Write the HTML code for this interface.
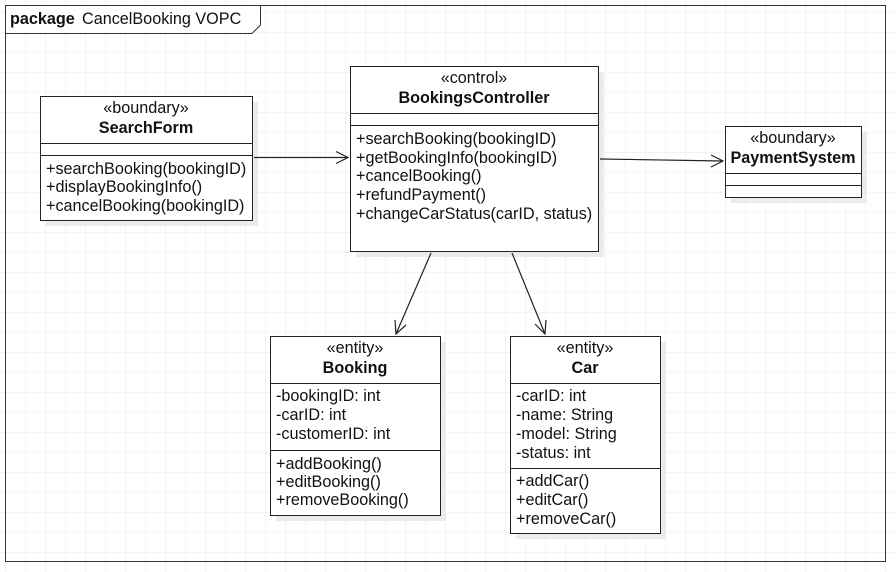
<!DOCTYPE html>
<html><head><meta charset="utf-8"><style>
body{margin:0;background:#fff}
svg{display:block}
text{font-family:"Liberation Sans",sans-serif;font-size:16.2px;fill:#111}
.b{font-weight:bold}
</style></head><body>
<svg width="896" height="572" viewBox="0 0 896 572" xmlns="http://www.w3.org/2000/svg">
<defs>
<pattern id="g" x="5" y="12" width="20" height="20" patternUnits="userSpaceOnUse">
<path d="M0 0H20M0 0V20" stroke="#e8e8e8" stroke-width="1" fill="none"/>
</pattern>
</defs>
<rect x="0" y="0" width="896" height="572" fill="url(#g)"/>
<rect x="5.5" y="5.5" width="880" height="556" fill="none" stroke="#333" stroke-width="1"/>
<path d="M5.5 5.5H260.5V25L252 33.5H5.5Z" fill="#fff" stroke="#333"/>
<text x="10" y="24" font-weight="bold">package</text><text x="82" y="24">CancelBooking VOPC</text>

<g fill="#ebebeb">
<rect x="46" y="102" width="212" height="124"/>
<rect x="356" y="72" width="248" height="185"/>
<rect x="731" y="132" width="136" height="71"/>
<rect x="276" y="342" width="170" height="179"/>
<rect x="516" y="342" width="150" height="197"/>
</g>
<g fill="#fff" stroke="#222" stroke-width="1">
<rect x="40.5" y="96.5" width="212" height="124"/>
<rect x="350.5" y="66.5" width="248" height="185"/>
<rect x="725.5" y="126.5" width="136" height="71"/>
<rect x="270.5" y="336.5" width="170" height="179"/>
<rect x="510.5" y="336.5" width="150" height="197"/>
<path d="M40 143.5H253M40 155.5H253M350 113.5H599M350 125.5H599M725 173.5H862M725 185.5H862M270 383.5H441M270 450.5H441M510 383.5H661M510 468.5H661"/>
</g>

<text x="146" y="113" text-anchor="middle">«boundary»</text>
<text x="146" y="133" text-anchor="middle" class="b">SearchForm</text>
<text x="46" y="174">+searchBooking(bookingID)</text>
<text x="46" y="192">+displayBookingInfo()</text>
<text x="46" y="211">+cancelBooking(bookingID)</text>

<text x="474" y="83" text-anchor="middle">«control»</text>
<text x="474" y="103" text-anchor="middle" class="b">BookingsController</text>
<text x="356" y="144">+searchBooking(bookingID)</text>
<text x="356" y="163">+getBookingInfo(bookingID)</text>
<text x="356" y="181">+cancelBooking()</text>
<text x="356" y="200">+refundPayment()</text>
<text x="356" y="219">+changeCarStatus(carID, status)</text>

<text x="793" y="143" text-anchor="middle">«boundary»</text>
<text x="793" y="163" text-anchor="middle" class="b">PaymentSystem</text>

<text x="355" y="353" text-anchor="middle">«entity»</text>
<text x="355" y="373" text-anchor="middle" class="b">Booking</text>
<text x="276" y="401">-bookingID: int</text>
<text x="276" y="420">-carID: int</text>
<text x="276" y="439">-customerID: int</text>
<text x="276" y="469">+addBooking()</text>
<text x="276" y="487">+editBooking()</text>
<text x="276" y="505">+removeBooking()</text>

<text x="585" y="353" text-anchor="middle">«entity»</text>
<text x="585" y="373" text-anchor="middle" class="b">Car</text>
<text x="516" y="401">-carID: int</text>
<text x="516" y="420">-name: String</text>
<text x="516" y="439">-model: String</text>
<text x="516" y="458">-status: int</text>
<text x="516" y="486">+addCar()</text>
<text x="516" y="505">+editCar()</text>
<text x="516" y="524">+removeCar()</text>

<g stroke="#222" stroke-width="1.2" fill="none">
<path d="M254 157.5H348M336 151.5L348 157.5L336 163.5"/>
<path d="M600 159L723 161M711 155L723 161L711 167"/>
<path d="M431 253L396 334M395 320L396 334L406 325"/>
<path d="M512 253L545 334M535 324L545 334L546 320"/>
</g>
</svg>
</body></html>
